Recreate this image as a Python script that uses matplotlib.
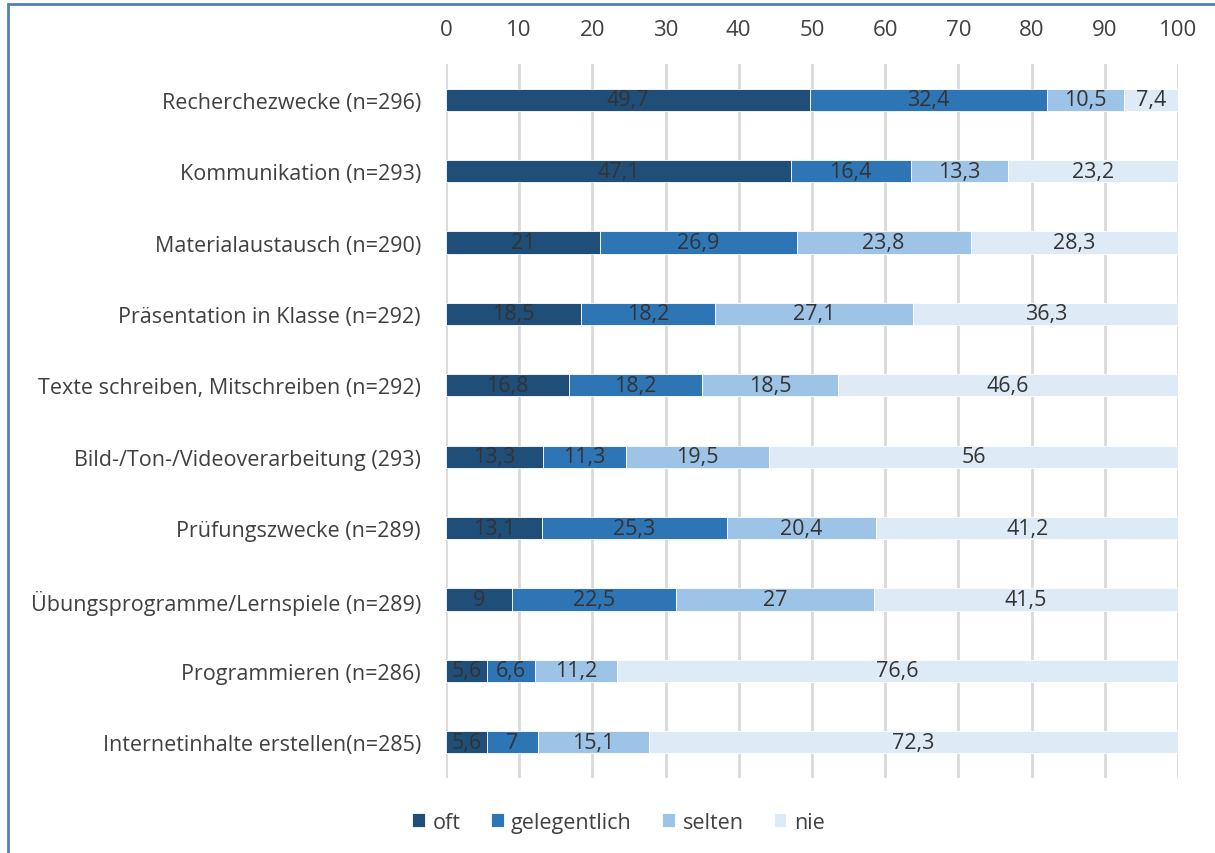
import numpy as np
import matplotlib
matplotlib.use("Agg")
from matplotlib import pyplot as plt
from matplotlib.patches import Rectangle

plt.rcParams['font.family'] = ['Open Sans', 'DejaVu Sans']

# categories, top to bottom
categories = [
    "Recherchezwecke (n=296)",
    "Kommunikation (n=293)",
    "Materialaustausch (n=290)",
    "Präsentation in Klasse (n=292)",
    "Texte schreiben, Mitschreiben (n=292)",
    "Bild-/Ton-/Videoverarbeitung (293)",
    "Prüfungszwecke (n=289)",
    "Übungsprogramme/Lernspiele (n=289)",
    "Programmieren (n=286)",
    "Internetinhalte erstellen(n=285)",
]
oft = [49.7, 47.1, 21, 18.5, 16.8, 13.3, 13.1, 9, 5.6, 5.6]
gelegentlich = [32.4, 16.4, 26.9, 18.2, 18.2, 11.3, 25.3, 22.5, 6.6, 7]
selten = [10.5, 13.3, 23.8, 27.1, 18.5, 19.5, 20.4, 27, 11.2, 15.1]
nie = [7.4, 23.2, 28.3, 36.3, 46.6, 56, 41.2, 41.5, 76.6, 72.3]

series_names = ["oft", "gelegentlich", "selten", "nie"]
colors = ["#1F4E79", "#2E75B6", "#9DC3E6", "#DEEBF7"]
txt = "#404040"
fs = 15.5

fig = plt.figure(figsize=(12.15, 8.54), dpi=100)
ax = fig.add_axes([0.367, 0.0878, 0.6025, 0.836])

y = np.arange(len(categories))
left = np.zeros(len(categories))
for name, vals, c in zip(series_names, [oft, gelegentlich, selten, nie], colors):
    vals = np.array(vals, dtype=float)
    ax.barh(y, vals, left=left, height=0.31, color=c, label=name, zorder=3,
            edgecolor="white", linewidth=0.6)
    for yi, l, v in zip(y, left, vals):
        lab = ("%g" % v).replace(".", ",")
        ax.text(l + v / 2, yi, lab, ha="center", va="center",
                fontsize=fs, color="#333333", zorder=4)
    left += vals

ax.set_xlim(0, 100)
ax.set_ylim(len(categories) - 0.5, -0.5)
ax.set_yticks(y)
ax.set_yticklabels(categories, fontsize=fs, color=txt)
ax.set_xticks(np.arange(0, 101, 10))
ax.xaxis.tick_top()
ax.tick_params(axis="x", labelsize=fs + 0.5, colors=txt, length=0, pad=17)
ax.tick_params(axis="y", length=0, pad=18)
ax.grid(axis="x", color="#D9D9D9", linewidth=2, zorder=0)
for s in ax.spines.values():
    s.set_visible(False)

fig.legend(loc="center", bbox_to_anchor=(0.509, 0.036), ncol=4, frameon=False,
           fontsize=fs, handlelength=0.6, handleheight=0.6, handletextpad=0.35,
           columnspacing=1.4, labelcolor=txt)

# outer frame (only left and top visible in the reference crop)
fig.patches.append(Rectangle((0.0066, -0.05), 1.2, 1.044, transform=fig.transFigure,
                             fill=False, edgecolor="#4F81BD", linewidth=2))

fig.savefig("out.png", dpi=100)
